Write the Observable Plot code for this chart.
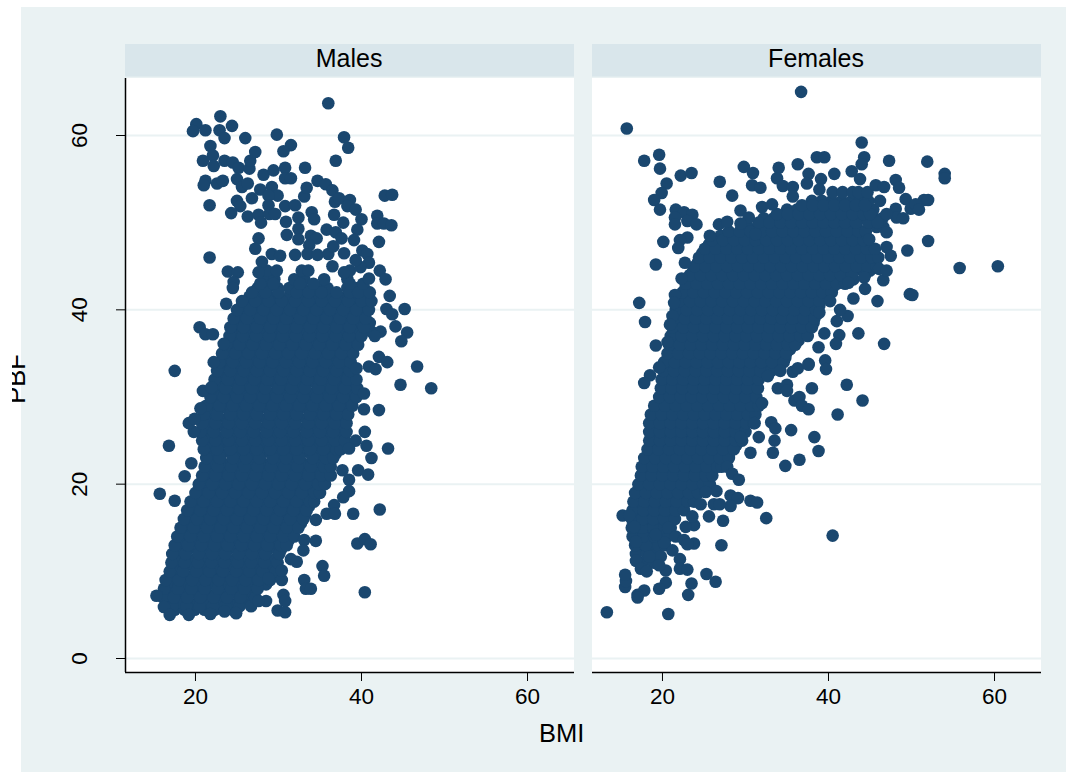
<!DOCTYPE html>
<html><head><meta charset="utf-8">
<script src="https://cdn.jsdelivr.net/npm/d3@7"></script>
<script src="https://cdn.jsdelivr.net/npm/@observablehq/plot@0.6"></script>
<style>
html,body{margin:0;padding:0;background:#fff;overflow:hidden;width:1066px;height:772px}
#bg{position:absolute;left:21px;top:7px;right:0;bottom:0;background:#eaf2f3}
#chart{position:absolute;left:0;top:0}
.lab{position:absolute;font-family:"Liberation Sans",Arial,sans-serif;font-size:25.5px;color:#000;line-height:30px;white-space:nowrap}
#bmi{left:539px;top:718px}
#pbfclip{position:absolute;left:12px;top:340px;width:30px;height:70px;overflow:hidden}
#pbf{left:-31px;top:24px;transform:rotate(-90deg);width:70px;text-align:center;}
</style></head><body>
<div id="bg"></div><div id="chart"></div>
<div class="lab" id="bmi">BMI</div>
<div id="pbfclip"><div class="lab" id="pbf">PBF</div></div>
<script>
const panels = ["Males", "Females"];
const xTicks = [20, 40, 60];
const yTicks = [0, 20, 40, 60];
const xDomain = [11.57, 65.66];
const yDomain = [-1.606, 70.44];
const panelTop = 66.54;
const stripBottom = 66.7;
const stripMid = 68.8;
const stripX = 38.5;

// [BMI, PBF] scattered points
const malesSparse = [[36,63.7],[23,62.2],[20.1,61.3],[19.7,60.5],[21.2,60.6],[22.9,60.6],[23.5,59.7],[24.4,61.1],[26,59.7],[29.8,60.1],[37.9,59.8],[38.4,58.6],[31.5,58.9],[30.6,58.2],[36.9,57.1],[21.8,58.8],[22.1,57.7],[20.9,57.1],[22.2,56.5],[23.5,57.1],[24.5,56.9],[25.2,56.3],[26.5,56.2],[26.6,57.1],[27.2,58.1],[21.2,54.8],[21,54.3],[22.6,54.5],[23.3,54.8],[21.7,52],[25,55],[25.6,54.1],[26.3,54.5],[28.2,55.5],[29.4,56],[30.8,56.3],[33.2,56.3],[30.8,55.1],[31.5,55.1],[27.8,53.8],[29.2,54.1],[29.9,53.1],[28.8,53.1],[26.8,52.8],[25,52.5],[25.4,51.9],[24.3,51.1],[26.3,50.7],[27.6,50.9],[27.9,50],[28.8,52],[28.9,51],[29.6,51],[30.8,51.9],[32,52],[33.1,53],[33.4,54],[34.7,54.8],[35.7,54.4],[36.5,53.7],[36.8,52.4],[37.3,52.8],[38.6,52.6],[38.3,51.9],[39.3,51.5],[42.8,53.1],[43.7,53.2],[36.7,50.9],[37.8,50],[40,50.4],[41.9,50.8],[41.9,49.9],[42.7,49.9],[43.6,49.7],[39.5,49.2],[39.1,48],[42.1,47.8],[34,51.2],[32.4,50.6],[34.3,50.4],[30.9,50.1],[31,48.6],[32.4,49.3],[32.4,48.1],[33.9,48.5],[34.6,48.2],[35.8,49.2],[36.9,48.9],[37.6,48.2],[27.6,48.2],[27.2,47],[21.7,46],[23.9,44.4],[25.1,44.3],[24.6,43.2],[24.5,42.5],[29.2,46.4],[30.2,46.2],[28,45.5],[27.6,44.3],[32,46.3],[33.7,47.4],[33.5,46.4],[34.7,46.3],[36,46.4],[36.6,47.3],[37.9,46.5],[36.5,45],[37.9,44.3],[40.1,46.8],[40.7,46.4],[40.9,45.4],[39.9,44.9],[39.3,45.7],[42.2,44.5],[42.9,43.5],[40.9,43.6],[43.4,41.6],[45.2,40.1],[43,40.1],[43.7,39.5],[44.1,38.1],[45.5,37.4],[44.8,36.4],[42.1,34.6],[43.1,34],[46.7,33.5],[23.7,40.7],[20.5,38],[21.2,37.2],[22.1,37.2],[23.4,36.1],[22.2,34],[17.5,33],[39.4,33.3],[40.9,33.5],[41.7,33.2],[44.7,31.4],[48.4,31],[40.3,30.4],[40.3,28.6],[42.1,28.5],[40.4,26],[40.6,24.4],[43.2,24.1],[41.2,23],[39.3,25],[38.5,24.1],[37.7,21.6],[39.6,21.6],[40.8,21.1],[38.5,20.5],[38.5,19.2],[37.8,18.5],[36.7,17.6],[35.8,16.6],[36.8,16.6],[39,16.6],[42.2,17.1],[34.5,15.9],[34.5,13.5],[33.1,13.6],[33,12.4],[31.5,11.4],[32.2,11.1],[39.5,13.2],[40.4,13.7],[41.1,13.1],[35.3,10.6],[35.5,9.5],[33.1,9],[33.3,8],[33.9,8],[40.4,7.6],[30.6,7.3],[30.8,6.6],[29.9,5.5],[30.8,5.3],[28.5,6.6],[27.6,6.6],[30.4,9],[30.4,10.1],[28.8,9.2],[16.8,24.4],[19.5,22.4],[18.7,20.9],[15.7,18.9],[17.5,18.1],[15.3,7.2],[16.2,5.9],[16.9,5],[19.2,5],[21.8,5.1],[23.5,5.4],[24.9,5.2],[19.8,26],[19.2,27],[19.9,27.5],[20.9,30.7],[21.9,31.1],[20.6,28.7]];

// each row: PBF, then the BMI values read along that row
const malesDense = [
[5.6,17.5,18.7,19.9,21.1,22.3,23.5,24.5],
[6.5,16.8,18,19.2,20.4,21.6,22.8,24,25.2,26.4],
[7.5,16.5,17.7,18.9,20.1,21.3,22.5,23.7,24.9,26.1,27],
[8.5,16.8,18,19.2,20.4,21.6,22.8,24,25.2,26.4,27.6,28.5],
[9.5,17.2,18.4,19.6,20.8,22,23.2,24.4,25.6,26.8,28,29.2],
[10.5,17.5,18.7,19.9,21.1,22.3,23.5,24.7,25.9,27.1,28.3,29.3],
[11.5,17.7,18.9,20.1,21.3,22.5,23.7,24.9,26.1,27.3,28.5,29.7],
[12.5,17.9,19.1,20.3,21.5,22.7,23.9,25.1,26.3,27.5,28.7,29.9,30.3],
[13.5,18.2,19.4,20.6,21.8,23,24.2,25.4,26.6,27.8,29,30.2,31.2],
[14.5,18.5,19.7,20.9,22.1,23.3,24.5,25.7,26.9,28.1,29.3,30.5,31.7],
[15.5,19,20.2,21.4,22.6,23.8,25,26.2,27.4,28.6,29.8,31,32.2,32.7],
[16.5,19.3,20.5,21.7,22.9,24.1,25.3,26.5,27.7,28.9,30.1,31.3,32.5,33.2],
[17.5,19.8,21,22.2,23.4,24.6,25.8,27,28.2,29.4,30.6,31.8,33,33.7],
[18.5,20.2,21.4,22.6,23.8,25,26.2,27.4,28.6,29.8,31,32.2,33.4,34.3],
[19.5,20.8,22,23.2,24.4,25.6,26.8,28,29.2,30.4,31.6,32.8,34,34.9],
[20.5,21.2,22.4,23.6,24.8,26,27.2,28.4,29.6,30.8,32,33.2,34.4,35.5],
[21.5,21.6,22.8,24,25.2,26.4,27.6,28.8,30,31.2,32.4,33.6,34.8,35.8],
[22.5,22,23.2,24.4,25.6,26.8,28,29.2,30.4,31.6,32.8,34,35.2,36],
[23.5,21.9,23.1,24.3,25.5,26.7,27.9,29.1,30.3,31.5,32.7,33.9,35.1,36.3,36.9],
[24.5,21.7,22.9,24.1,25.3,26.5,27.7,28.9,30.1,31.3,32.5,33.7,34.9,36.1,37.3],
[25.5,21.4,22.6,23.8,25,26.2,27.4,28.6,29.8,31,32.2,33.4,34.6,35.8,37,37.8],
[26.5,21.2,22.4,23.6,24.8,26,27.2,28.4,29.6,30.8,32,33.2,34.4,35.6,36.8,37.8],
[27.5,21.4,22.6,23.8,25,26.2,27.4,28.6,29.8,31,32.2,33.4,34.6,35.8,37,37.9],
[28.5,21.6,22.8,24,25.2,26.4,27.6,28.8,30,31.2,32.4,33.6,34.8,36,37.2,38.2],
[29.5,22,23.2,24.4,25.6,26.8,28,29.2,30.4,31.6,32.8,34,35.2,36.4,37.6,38.8],
[30.5,22.4,23.6,24.8,26,27.2,28.4,29.6,30.8,32,33.2,34.4,35.6,36.8,38,39.2],
[31.5,22.6,23.8,25,26.2,27.4,28.6,29.8,31,32.2,33.4,34.6,35.8,37,38.2,39.1],
[32.5,22.9,24.1,25.3,26.5,27.7,28.9,30.1,31.3,32.5,33.7,34.9,36.1,37.3,38.5,38.9],
[33.5,23.1,24.3,25.5,26.7,27.9,29.1,30.3,31.5,32.7,33.9,35.1,36.3,37.5,38.3],
[34.5,23.4,24.6,25.8,27,28.2,29.4,30.6,31.8,33,34.2,35.4,36.6,37.8,38.3],
[35.5,23.8,25,26.2,27.4,28.6,29.8,31,32.2,33.4,34.6,35.8,37,38.2,38.8],
[36.5,24.2,25.4,26.6,27.8,29,30.2,31.4,32.6,33.8,35,36.2,37.4,38.6,39.3],
[37.5,24.5,25.7,26.9,28.1,29.3,30.5,31.7,32.9,34.1,35.3,36.5,37.7,38.9,39.8,41.2,42.3],
[38.5,24.8,26,27.2,28.4,29.6,30.8,32,33.2,34.4,35.6,36.8,38,39.2,40,41],
[39.5,25.2,26.4,27.6,28.8,30,31.2,32.4,33.6,34.8,36,37.2,38.4,39.6,40.2],
[40.5,25.6,26.8,28,29.2,30.4,31.6,32.8,34,35.2,36.4,37.6,38.8,40,40.8],
[41.5,26.5,27.7,28.9,30.1,31.3,32.5,33.7,34.9,36.1,37.3,38.5,39.7,40.8],
[42.5,27.5,28.7,29.9,31.3,32.9,34.7,35.9,38.3,39.5,40.3],
[43.5,28.3,29.5,31.9,33.1,35.5,38.3],
[44.5,28.6,29.8,32.8,33.6,38.6]
];

// second pass between the rows above, closes the gaps and fills the edges
const malesFill = [
[6,17.2,18.9,20.5,22.1,23.6,25.3,26.7],
[7,16.1,17.4,19,20.6,22.2,23.8,25.4,27.2],
[8,16.2,17.9,19.5,21.1,22.7,24.3,25.9,27.5],
[9,16.4,18,19.6,21.2,22.8,24.4,26,27.6,29],
[10,16.9,18.5,20.1,21.7,23.3,24.9,26.5,28.1,29.7],
[11,17.1,18.7,20.3,21.9,23.5,25.1,26.7,28.3,29.9],
[12,17.2,18.8,20.4,22,23.6,25.2,26.8,28.4,30.1],
[13,17.5,19.1,20.7,22.3,23.9,25.5,27.1,28.7,30.3,31],
[14,17.8,19.4,21,22.6,24.2,25.8,27.4,29,30.6,31.9],
[15,18.2,19.8,21.4,23,24.6,26.2,27.8,29.4,31,32.4],
[16,18.6,20.2,21.8,23.4,25,26.6,28.2,29.8,31.4,33],
[17,19,20.6,22.2,23.8,25.4,27,28.6,30.2,31.8,33.4],
[18,19.4,21,22.6,24.2,25.8,27.4,29,30.6,32.2,33.8,34.3],
[19,20,21.6,23.2,24.8,26.4,28,29.6,31.2,32.8,34.4,35],
[20,20.4,22,23.6,25.2,26.8,28.4,30,31.6,33.2,34.8,35.6],
[21,20.8,22.4,24,25.6,27.2,28.8,30.4,32,33.6,35.2,36.3],
[22,21.1,22.7,24.3,25.9,27.5,29.1,30.7,32.3,33.9,35.5,36.3],
[23,21.3,22.9,24.5,26.1,27.7,29.3,30.9,32.5,34.1,35.7,36.6],
[24,21,22.6,24.2,25.8,27.4,29,30.6,32.2,33.8,35.4,37,37.5],
[25,20.8,22.4,24,25.6,27.2,28.8,30.4,32,33.6,35.2,36.8,38],
[26,20.6,22.2,23.8,25.4,27,28.6,30.2,31.8,33.4,35,36.6,38.2],
[27,20.8,22.4,24,25.6,27.2,28.8,30.4,32,33.6,35.2,36.8,38.2],
[28,21,22.6,24.2,25.8,27.4,29,30.6,32.2,33.8,35.4,37,38.4],
[29,21.3,22.9,24.5,26.1,27.7,29.3,30.9,32.5,34.1,35.7,37.3,38.9],
[30,21.8,23.4,25,26.6,28.2,29.8,31.4,33,34.6,36.2,37.8,39.4],
[31,22,23.6,25.2,26.8,28.4,30,31.6,33.2,34.8,36.4,38,39.5],
[32,22.3,23.9,25.5,27.1,28.7,30.3,31.9,33.5,35.1,36.7,38.3,39.4],
[33,22.6,24.2,25.8,27.4,29,30.6,32.2,33.8,35.4,37,38.6],
[34,22.9,24.5,26.1,27.7,29.3,30.9,32.5,34.1,35.7,37.3,38.7],
[35,23.2,24.8,26.4,28,29.6,31.2,32.8,34.4,36,37.6,39],
[36,23.7,25.3,26.9,28.5,30.1,31.7,33.3,34.9,36.5,38.1,39.6],
[37,24.1,25.7,27.3,28.9,30.5,32.1,33.7,35.3,36.9,38.5,40,41.6],
[38,24.2,25.8,27.4,29,30.6,32.2,33.8,35.4,37,38.6,40.3],
[39,24.6,26.2,27.8,29.4,31,32.6,34.2,35.8,37.4,39,40.5],
[40,25,26.6,28.2,29.8,31.4,33,34.6,36.2,37.8,39.4,40.9],
[41,25.6,27.2,28.8,30.4,32,33.6,35.2,36.8,38.4,40,41.2],
[42,26.8,28.4,30,32.2,33.6,35.2,37,38.6,39.6,41],
[43,27.8,29.4,32.6,34.2,38.6,40.2]
];

const femalesSparse = [[36.7,65],[15.7,60.8],[19.6,57.8],[17.8,57.1],[19.7,56.2],[44,59.2],[44.3,57.5],[44,56.7],[38.6,57.5],[39.5,57.5],[47.3,57.1],[51.9,57],[29.8,56.4],[30.9,55.7],[34,56.3],[36.3,56.7],[37.6,55.6],[40.7,55.6],[42.8,55.9],[22.2,55.4],[23.5,55.7],[20.5,54.5],[19.9,53.4],[19,52.6],[19.7,51.5],[26.9,54.7],[28.4,53.1],[30.8,54.3],[31.8,54],[33.8,55.1],[34.5,54.2],[35.7,54.1],[37.4,54.5],[39.1,55],[38.9,53.8],[43.8,55],[48.1,54.9],[48.5,54],[45.7,54.3],[46.7,54.1],[49.3,52.7],[49.9,51.6],[51.5,52.6],[48.1,51.6],[48.2,50.6],[46.2,52.5],[47,51],[47,48.9],[44.9,48.1],[49.5,46.8],[52,47.9],[47,47.2],[47.5,46.2],[46.1,44.7],[46.6,43.4],[44.3,43.7],[44.4,42.4],[42.4,43.1],[43,41.3],[45.9,41],[49.8,41.8],[42.3,39.3],[41.4,40],[41,38.7],[43.6,37.3],[46.7,36.1],[41.3,37.1],[40.9,36.1],[39.5,37.3],[38.8,35.7],[39.6,34.2],[37.6,33.8],[40.2,41],[38.9,39.7],[21.6,51.5],[22.6,51.2],[23.6,50.9],[21.5,50.6],[21.5,49.8],[23,50.2],[24.1,49.8],[23,48.3],[22.1,48],[20.1,47.8],[21.9,47.1],[19.2,45.2],[22.7,45.4],[22.3,43.6],[21.5,41.7],[21.4,40.8],[17.2,40.8],[17.9,38.6],[21.2,39.3],[20.9,38.3],[19.2,35.9],[20.6,36.3],[19.6,33.4],[26.8,49.8],[27.8,50.1],[29.4,51.4],[30.4,50.6],[32,51.8],[33.2,52.1],[25.7,48.5],[29.4,49.9],[31.2,48.7],[35.7,53],[18.5,32.5],[17.8,31.6],[32.7,32.4],[34.2,33],[35.7,32.9],[36.3,33.3],[37.6,33.7],[39.7,33.2],[33.9,31],[35,31.4],[35,30.7],[38,31],[42.2,31.4],[44.1,29.6],[41.1,28],[35.9,29.6],[36.5,30],[36.8,29],[37.6,28.6],[33.1,27.1],[33.6,26.4],[35.5,26.2],[38.3,25.4],[31.6,25.4],[33.5,25],[38.8,23.8],[33.3,23.6],[36.5,22.8],[34.8,22.1],[27.8,22],[28.4,21.2],[29.2,20.5],[31.1,27],[32,29.3],[29.4,25.4],[30.6,23.6],[26.5,19.2],[25.2,19.1],[28.2,18.7],[29.1,18.4],[30.6,18.1],[31.4,17.9],[28.2,17.5],[26.2,17.7],[26.9,17.7],[24.6,17.7],[25.6,16.3],[27.3,15.8],[32.5,16.1],[40.5,14.1],[15.2,16.4],[16,16.4],[23.8,15.3],[22.8,15.1],[23.6,16.3],[20.7,15],[21.6,14],[22.6,13.6],[23.8,13.2],[23,13.1],[27.1,13],[21.2,12.4],[20.2,13.3],[19.8,11.7],[22.1,11.4],[22.1,10.3],[23,10.2],[20.4,10.1],[19.6,10.7],[16.8,11.2],[17.4,10.3],[18.1,10],[25.3,9.7],[26.4,8.8],[23.5,8.6],[20.4,8.7],[19.6,8],[23.1,7.3],[17.8,7.8],[17,7.3],[17,7],[15.5,8.2],[15.6,8.9],[15.5,9.6],[13.3,5.3],[20.7,5.1],[18.4,11.7],[19.2,14.2],[16.8,13.4],[16.6,15.1],[54,55.6],[54,55.1],[50.5,52.1],[50.9,51.5],[55.8,44.8],[60.4,45],[50.1,41.7],[52,52.6],[49,50.5],[47,44.5]];

const femalesDense = [
[12.5,17.5,18.7,19.2],
[13.5,17.3,18.5,19.6],
[14.5,17,18.2,19.4,20.3],
[15.5,16.9,18.1,19.3,20.5],
[16.5,16.9,18.1,19.3,20.5,21.3],
[17.5,17,18.2,19.4,20.6,21.8,22.4],
[18.5,17.1,18.3,19.5,20.7,21.9,23.1,23.4],
[19.5,17.5,18.7,19.9,21.1,22.3,23.5,24.4],
[20.5,17.8,19,20.2,21.4,22.6,23.8,25,25.3],
[21.5,18,19.2,20.4,21.6,22.8,24,25.2,26],
[22.5,18.2,19.4,20.6,21.8,23,24.2,25.4,26.6,27],
[23.5,18.6,19.8,21,22.2,23.4,24.6,25.8,27,28],
[24.5,18.9,20.1,21.3,22.5,23.7,24.9,26.1,27.3,28.5,28.9],
[25.5,19,20.2,21.4,22.6,23.8,25,26.2,27.4,28.6,29.3],
[26.5,19,20.2,21.4,22.6,23.8,25,26.2,27.4,28.6,29.8],
[27.5,19,20.2,21.4,22.6,23.8,25,26.2,27.4,28.6,29.8,30.5],
[28.5,19.3,20.5,21.7,22.9,24.1,25.3,26.5,27.7,28.9,30.1,30.8],
[29.5,19.9,21.1,22.3,23.5,24.7,25.9,27.1,28.3,29.5,30.7,31.2],
[30.5,20.2,21.4,22.6,23.8,25,26.2,27.4,28.6,29.8,31],
[31.5,20.3,21.5,22.7,23.9,25.1,26.3,27.5,28.7,29.9,31.1],
[32.5,20.4,21.6,22.8,24,25.2,26.4,27.6,28.8,30,31.2,32],
[33.5,20.6,21.8,23,24.2,25.4,26.6,27.8,29,30.2,31.4,32.6,33.8],
[34.5,20.8,22,23.2,24.4,25.6,26.8,28,29.2,30.4,31.6,32.8,34,34.8],
[35.5,21.1,22.3,23.5,24.7,25.9,27.1,28.3,29.5,30.7,31.9,33.1,34.3,35.4],
[36.5,21.3,22.5,23.7,24.9,26.1,27.3,28.5,29.7,30.9,32.1,33.3,34.5,35.7,36.4],
[37.5,21.5,22.7,23.9,25.1,26.3,27.5,28.7,29.9,31.1,32.3,33.5,34.7,35.9,37.1],
[38.5,21.7,22.9,24.1,25.3,26.5,27.7,28.9,30.1,31.3,32.5,33.7,34.9,36.1,37.3,38.2],
[39.5,21.9,23.1,24.3,25.5,26.7,27.9,29.1,30.3,31.5,32.7,33.9,35.1,36.3,37.5,38.6],
[40.5,22.1,23.3,24.5,25.7,26.9,28.1,29.3,30.5,31.7,32.9,34.1,35.3,36.5,37.7,38.9],
[41.5,22.5,23.7,24.9,26.1,27.3,28.5,29.7,30.9,32.1,33.3,34.5,35.7,36.9,38.1,39.3],
[42.5,22.8,24,25.2,26.4,27.6,28.8,30,31.2,32.4,33.6,34.8,36,37.2,38.4,39.6,40.5],
[43.5,23.2,24.4,25.6,26.8,28,29.2,30.4,31.6,32.8,34,35.2,36.4,37.6,38.8,40,41.2,42.4,43],
[44.5,23.7,24.9,26.1,27.3,28.5,29.7,30.9,32.1,33.3,34.5,35.7,36.9,38.1,39.3,40.5,41.7,42.9,44.1,45],
[45.5,24.3,25.5,26.7,27.9,29.1,30.3,31.5,32.7,33.9,35.1,36.3,37.5,38.7,39.9,41.1,42.3,43.5,44.7,45.4],
[46.5,24.8,26,27.2,28.4,29.6,30.8,32,33.2,34.4,35.6,36.8,38,39.2,40.4,41.6,42.8,44,45.2],
[47.5,25.6,26.8,28,29.2,30.4,31.6,32.8,34,35.2,36.4,37.6,38.8,40,41.2,42.4,43.6,44.6],
[48.5,27,28.2,29.4,30.6,31.8,33,34.2,35.4,36.6,37.8,39,40.2,41.4,42.6,43.8],
[49.5,30.2,31.4,32.6,33.8,35,36.2,37.4,38.6,39.8,41,42.2,43.4,45.8,46.6],
[50.5,32.2,33.4,34.6,35.8,37,38.2,39.4,40.6,41.8,43,44.2,45.5,46.5],
[51.5,35,36.2,37.4,38.6,39.8,41,42.2,43.4,44.6,45.4],
[52.5,38,39.2,40.4,41.6,42.8,44,44.8],
[53.5,40.5,41.7,42.9,43.6,44.7]
];

const femalesFill = [
[11,17.6,18.9],
[12,16.8,18.1,19.4],
[13,16.7,18,19.5,20.3],
[14,16.4,17.7,19,20.6],
[15,16.3,17.6,18.9,20.2,21],
[16,16.3,17.6,18.9,20.2,21.5],
[17,16.4,17.7,19,20.3,21.6,22.6],
[18,16.5,17.8,19.1,20.4,21.7,23,23.8],
[19,16.7,18,19.3,20.6,21.9,23.2,24.3],
[20,17.1,18.4,19.7,21,22.3,23.6,24.9,25.7],
[21,17.4,18.7,20,21.3,22.6,23.9,25.2,26],
[22,17.5,18.8,20.1,21.4,22.7,24,25.3,26.6,27.1],
[23,17.8,19.1,20.4,21.7,23,24.3,25.6,26.9,28],
[24,18.2,19.5,20.8,22.1,23.4,24.7,26,27.3,28.6],
[25,18.4,19.7,21,22.3,23.6,24.9,26.2,27.5,28.8,29.6],
[26,18.4,19.7,21,22.3,23.6,24.9,26.2,27.5,28.8,30],
[27,18.4,19.7,21,22.3,23.6,24.9,26.2,27.5,28.8,30.1,31],
[28,18.6,19.9,21.2,22.5,23.8,25.1,26.4,27.7,29,30.3,31.2],
[29,19,20.3,21.6,22.9,24.2,25.5,26.8,28.1,29.4,30.7,31.6],
[30,19.6,20.9,22.2,23.5,24.8,26.1,27.4,28.7,30,31.3],
[31,19.8,21.1,22.4,23.7,25,26.3,27.6,28.9,30.2,31.5],
[32,19.9,21.2,22.5,23.8,25.1,26.4,27.7,29,30.3,31.6],
[33,20.1,21.4,22.7,24,25.3,26.6,27.9,29.2,30.5,31.8,33.1],
[34,20.2,21.5,22.8,24.1,25.4,26.7,28,29.3,30.6,31.9,33.2,34.6],
[35,20.6,21.9,23.2,24.5,25.8,27.1,28.4,29.7,31,32.3,33.6,34.9],
[36,20.8,22.1,23.4,24.7,26,27.3,28.6,29.9,31.2,32.5,33.8,35.1,36],
[37,21,22.3,23.6,24.9,26.2,27.5,28.8,30.1,31.4,32.7,34,35.3,36.6,37.5],
[38,21.2,22.5,23.8,25.1,26.4,27.7,29,30.3,31.6,32.9,34.2,35.5,36.8,38],
[39,21.4,22.7,24,25.3,26.6,27.9,29.2,30.5,31.8,33.1,34.4,35.7,37,38.3],
[40,21.6,22.9,24.2,25.5,26.8,28.1,29.4,30.7,32,33.3,34.6,35.9,37.2,38.5],
[41,22,23.3,24.6,25.9,27.2,28.5,29.8,31.1,32.4,33.7,35,36.3,37.6,38.9],
[42,22.4,23.7,25,26.3,27.6,28.9,30.2,31.5,32.8,34.1,35.4,36.7,38,39.3,40.4],
[43,22.8,24.1,25.4,26.7,28,29.3,30.6,31.9,33.2,34.5,35.8,37.1,38.4,39.7,41,42],
[44,23.3,24.6,25.9,27.2,28.5,29.8,31.1,32.4,33.7,35,36.3,37.6,38.9,40.2,41.5,42.8,44.4],
[45,23.9,25.2,26.5,27.8,29.1,30.4,31.7,33,34.3,35.6,36.9,38.2,39.5,40.8,42.1,43.4,44.7,45.8],
[46,24.4,25.7,27,28.3,29.6,30.9,32.2,33.5,34.8,36.1,37.4,38.7,40,41.3,42.6,43.9,45.2,46],
[47,25.1,26.4,27.7,29,30.3,31.6,32.9,34.2,35.5,36.8,38.1,39.4,40.7,42,43.3,44.6,45.6],
[48,26,27.3,28.6,29.9,31.2,32.5,33.8,35.1,36.4,37.7,39,40.3,41.6,42.9,44.2],
[49,28,29.3,30.6,31.9,33.2,34.5,35.8,37.1,38.4,39.7,41,42.3,43.6,44.5],
[50,31.6,32.9,34.2,35.5,36.8,38.1,39.4,40.7,42,43.3,44.8,45.9],
[51,33.8,35.1,36.4,37.7,39,40.3,41.6,42.9,44.2,45],
[52,36.8,38.1,39.4,40.7,42,43.3,44.4]
];

const fromPairs = (sex, list) => list.map(([bmi, pbf]) => ({sex, bmi, pbf}));
const fromRows = (sex, rows) => rows.flatMap(([pbf, ...xs]) => xs.map(bmi => ({sex, bmi, pbf})));
const points = [
  ...fromRows("Males", malesDense), ...fromRows("Males", malesFill), ...fromPairs("Males", malesSparse),
  ...fromRows("Females", femalesDense), ...fromRows("Females", femalesFill), ...fromPairs("Females", femalesSparse)
];
const panelRows = panels.map(sex => ({sex}));

const plot = Plot.plot({
  width: 1066, height: 772,
  marginLeft: 125, marginRight: 25, marginTop: 44, marginBottom: 100,
  style: {background: "transparent", fontFamily: '"Liberation Sans", Arial, sans-serif', color: "#000"},
  x: {domain: xDomain, label: null},
  y: {domain: yDomain, label: null},
  fx: {domain: panels, paddingInner: 18 / 467, paddingOuter: 0, axis: null, label: null},
  marks: [
    Plot.rect(panelRows, {fx: "sex", x1: xDomain[0], x2: xDomain[1], y1: yDomain[0], y2: panelTop, fill: "#fff"}),
    Plot.rect(panelRows, {fx: "sex", x1: xDomain[0], x2: xDomain[1], y1: stripBottom, y2: yDomain[1], fill: "#d9e6eb"}),
    Plot.text(panelRows, {fx: "sex", x: () => stripX, y: () => stripMid, text: "sex", fontSize: 25, fill: "#000"}),
    Plot.ruleY(yTicks, {x1: xDomain[0], x2: xDomain[1], stroke: "#eaf2f3", strokeWidth: 2}),
    Plot.dot(points, {fx: "sex", x: "bmi", y: "pbf", r: 6.3, fill: "#1a476f", stroke: "none"}),
    Plot.ruleY([yDomain[0]], {x1: xDomain[0], x2: xDomain[1], stroke: "#000", strokeWidth: 1.5}),
    Plot.ruleX(panelRows.slice(0, 1), {fx: "sex", x: () => xDomain[0], y1: yDomain[0], y2: panelTop, stroke: "#000", strokeWidth: 1.5}),
    Plot.axisX({ticks: xTicks, anchor: "bottom", tickSize: 9, tickPadding: 7, fontSize: 22.5, label: null, stroke: "#000", fill: "#000"}),
    Plot.axisY({ticks: yTicks, anchor: "left", tickSize: 9, tickPadding: 30, tickRotate: -90, fontSize: 22.5, label: null, stroke: "#000", fill: "#000", textAnchor: "middle"})
  ]
});
document.getElementById("chart").appendChild(plot);
</script>
</body></html>
